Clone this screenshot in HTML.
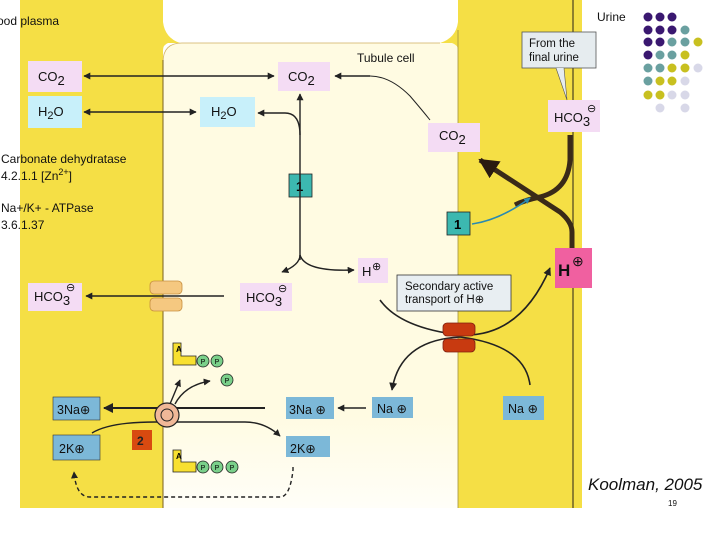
<!DOCTYPE html>
<html><head><meta charset="utf-8"><style>
body{margin:0;background:#fff;}
svg{display:block;font-family:"Liberation Sans",sans-serif;}
</style></head><body>
<svg width="720" height="540" viewBox="0 0 720 540" xmlns="http://www.w3.org/2000/svg">
<defs>
<marker id="a" viewBox="0 0 10 10" refX="9" refY="5" markerWidth="5" markerHeight="5" orient="auto-start-reverse"><path d="M0,0L10,5L0,10z" fill="#222"/></marker>
<marker id="ab" viewBox="0 0 10 10" refX="9" refY="5" markerWidth="4" markerHeight="4" orient="auto-start-reverse"><path d="M0,0L10,5L0,10z" fill="#2a1a10"/></marker>
<marker id="at" viewBox="0 0 10 10" refX="9" refY="5" markerWidth="4" markerHeight="4" orient="auto"><path d="M0,0L10,5L0,10z" fill="#2a8ab0"/></marker>
<linearGradient id="cg" x1="0" y1="0" x2="0" y2="1"><stop offset="0.8" stop-color="#fffbe2"/><stop offset="1" stop-color="#fffef8"/></linearGradient>
</defs>
<!-- bands -->
<rect x="20" y="0" width="143" height="508" fill="#f5df45"/>
<path d="M163,508 V62 Q163,43 182,43 H458 V508z" fill="url(#cg)"/>
<rect x="458" y="0" width="124" height="508" fill="#f5df45"/>
<path d="M163,22 Q165,38 180,43 H168 Q163,45 163,50z" fill="#f5df45"/>
<path d="M458,22 Q456,38 440,43 H452 Q458,45 458,50z" fill="#f5df45"/>
<path d="M163,508 V62 Q163,43 182,43 H440" fill="none" stroke="#d0b060" stroke-width="0.8"/>
<line x1="163" y1="60" x2="163" y2="508" stroke="#7a6020" stroke-width="1"/>
<line x1="458" y1="30" x2="458" y2="508" stroke="#a09040" stroke-width="0.8"/>
<line x1="573" y1="0" x2="573" y2="508" stroke="#4a4020" stroke-width="1.2"/>
<!-- left texts -->
<g font-size="12" fill="#111">
<text x="-3" y="25">ood plasma</text>
<text x="1" y="163">Carbonate dehydratase</text>
<text x="1" y="180">4.2.1.1 [Zn<tspan dy="-5" font-size="9">2+</tspan><tspan dy="5">]</tspan></text>
<text x="1" y="212">Na+/K+ - ATPase</text>
<text x="1" y="229">3.6.1.37</text>
<text x="357" y="62">Tubule cell</text>
<text x="597" y="21">Urine</text>
</g>
<!-- boxes -->
<g font-size="13" fill="#111">
<rect x="28" y="61" width="54" height="31" fill="#f4dcf4"/><text x="38" y="81">CO<tspan dy="4">2</tspan></text>
<rect x="28" y="96" width="54" height="32" fill="#c8f0fa"/><text x="38" y="116">H<tspan dy="3" font-size="11">2</tspan><tspan dy="-3">O</tspan></text>
<rect x="278" y="62" width="52" height="29" fill="#f4dcf4"/><text x="288" y="81">CO<tspan dy="4">2</tspan></text>
<rect x="200" y="97" width="55" height="30" fill="#c8f0fa"/><text x="211" y="116">H<tspan dy="3" font-size="11">2</tspan><tspan dy="-3">O</tspan></text>
<rect x="428" y="123" width="52" height="29" fill="#f4dcf4"/><text x="439" y="140">CO<tspan dy="4">2</tspan></text>
<rect x="548" y="100" width="52" height="32" fill="#f4dcf4"/><text x="554" y="122">HCO<tspan dy="4">3</tspan></text><text x="587" y="112" font-size="11">⊖</text>
<rect x="28" y="283" width="54" height="28" fill="#f4dcf4"/><text x="34" y="301">HCO<tspan dy="4">3</tspan></text><text x="66" y="291" font-size="11">⊖</text>
<rect x="240" y="283" width="52" height="28" fill="#f4dcf4"/><text x="246" y="302">HCO<tspan dy="4">3</tspan></text><text x="278" y="292" font-size="11">⊖</text>
<rect x="358" y="258" width="30" height="25" fill="#f4dcf4"/><text x="362" y="276">H</text><text x="372" y="270" font-size="11">⊕</text>
<rect x="555" y="248" width="37" height="40" fill="#f060a0"/><text x="558" y="276" font-size="17" font-weight="bold">H</text><text x="572" y="266" font-size="14">⊕</text>
</g>
<rect x="522" y="32" width="74" height="36" fill="#e6ecef" stroke="#555" stroke-width="0.8"/>
<text x="529" y="47" font-size="11.5" fill="#111">From the</text>
<text x="529" y="61" font-size="11.5" fill="#111">final urine</text>
<path d="M556,68 L567,100 L564,68" fill="#e6ecef" stroke="#555" stroke-width="0.6"/>
<rect x="397" y="275" width="114" height="36" fill="#e8eef2" stroke="#333" stroke-width="0.8"/>
<text x="405" y="290" font-size="11.5" fill="#111">Secondary active</text>
<text x="405" y="303" font-size="11.5" fill="#111">transport of H⊕</text>
<!-- teal 1 boxes -->
<rect x="289" y="174" width="23" height="23" fill="#3cb8b0" stroke="#222" stroke-width="0.8"/><text x="296" y="191" font-size="13" font-weight="bold">1</text>
<rect x="447" y="212" width="23" height="23" fill="#3cb8b0" stroke="#222" stroke-width="0.8"/><text x="454" y="229" font-size="13" font-weight="bold">1</text>
<!-- arrows -->
<g stroke="#222" stroke-width="1.4" fill="none">
<line x1="84" y1="76" x2="274" y2="76" marker-start="url(#a)" marker-end="url(#a)"/>
<line x1="84" y1="112" x2="196" y2="112" marker-start="url(#a)" marker-end="url(#a)"/>
<path d="M335,76 H370" marker-start="url(#a)"/>
<path d="M370,76 Q390,76 410,96 Q422,110 430,120" stroke-width="1"/>
<line x1="300" y1="260" x2="300" y2="94" marker-end="url(#a)"/>
<path d="M300,135 Q300,113 285,113 H258" marker-end="url(#a)"/>
<path d="M300,255 Q300,265 282,272" marker-end="url(#a)"/>
<path d="M300,255 Q305,272 354,270" marker-end="url(#a)"/>
<line x1="224" y1="296" x2="86" y2="296" marker-end="url(#a)"/>
<path d="M380,300 Q400,328 460,335 Q520,338 550,268" stroke-width="1.6" marker-end="url(#a)"/>
<path d="M530,385 Q525,345 460,337 Q400,340 392,390" stroke-width="1.6" marker-end="url(#a)"/>
<line x1="366" y1="408" x2="338" y2="408" marker-end="url(#a)"/>
<line x1="265" y1="408" x2="104" y2="408" stroke-width="2" marker-end="url(#a)"/>
<path d="M92,433 Q110,422 155,422 H245 Q265,422 280,436" marker-end="url(#a)"/>
<path d="M293,467 V470 Q290,497 280,497 H90 Q76,497 74,472" stroke-dasharray="4,3" marker-end="url(#a)"/>
<path d="M170,404 L180,380" marker-end="url(#a)"/>
<path d="M175,404 Q185,385 210,381" marker-end="url(#a)"/>
</g>
<!-- thick brown arrows -->
<g stroke="#3a2a18" stroke-width="5" fill="none">
<path d="M572,248 V232 Q572,222 560,212 L480,160" marker-end="url(#ab)"/>
<path d="M570,135 V160 Q568,190 540,197 Q525,200 515,205" />
</g>
<path d="M472,224 Q500,220 530,198" stroke="#2a8ab0" stroke-width="1.6" fill="none" marker-end="url(#at)"/>
<!-- transporters -->
<g fill="#f5c880" stroke="#c89040" stroke-width="0.8">
<rect x="150" y="281" width="32" height="13" rx="4"/><rect x="150" y="298" width="32" height="13" rx="4"/>
</g>
<g fill="#c83a10" stroke="#802010" stroke-width="0.8">
<rect x="443" y="323" width="32" height="13" rx="4"/><rect x="443" y="339" width="32" height="13" rx="4"/>
</g>
<!-- Na/K boxes -->
<g font-size="12.5" fill="#111">
<rect x="53" y="397" width="47" height="23" fill="#7cb8d8" stroke="#333" stroke-width="0.6"/><text x="57" y="414">3Na⊕</text>
<rect x="53" y="435" width="47" height="25" fill="#7cb8d8" stroke="#333" stroke-width="0.6"/><text x="59" y="453">2K⊕</text>
<rect x="286" y="397" width="48" height="22" fill="#7cb8d8"/><text x="289" y="414">3Na ⊕</text>
<rect x="286" y="436" width="44" height="21" fill="#7cb8d8"/><text x="290" y="453">2K⊕</text>
<rect x="372" y="397" width="41" height="21" fill="#7cb8d8"/><text x="377" y="413">Na ⊕</text>
<rect x="503" y="396" width="41" height="24" fill="#7cb8d8"/><text x="508" y="413">Na ⊕</text>
</g>
<rect x="132" y="430" width="20" height="20" fill="#d84a10"/><text x="137" y="445" font-size="12" font-weight="bold" fill="#222">2</text>
<!-- pump -->
<circle cx="167" cy="415" r="12" fill="#f0b898" stroke="#222" stroke-width="1.2"/>
<circle cx="167" cy="415" r="6" fill="none" stroke="#222" stroke-width="1"/>
<!-- ATP/ADP -->
<g stroke="#222" stroke-width="0.8">
<path d="M173,343 H181 V356 H196 V365 H173z" fill="#f8e030"/>
<path d="M173,450 H181 V462 H196 V472 H173z" fill="#f8e030"/>
<g fill="#7ad08a"><circle cx="203" cy="361" r="6"/><circle cx="217" cy="361" r="6"/><circle cx="227" cy="380" r="6"/>
<circle cx="203" cy="467" r="6"/><circle cx="217" cy="467" r="6"/><circle cx="232" cy="467" r="6"/></g>
</g>
<text x="176" y="352" font-size="8" font-weight="bold">A</text><text x="176" y="459" font-size="8" font-weight="bold">A</text>
<g font-size="7" text-anchor="middle"><text x="203" y="364">P</text><text x="217" y="364">P</text><text x="227" y="383">P</text><text x="203" y="470">P</text><text x="217" y="470">P</text><text x="232" y="470">P</text></g>
<!-- dots -->
<g>
<g fill="#3a1870"><circle cx="648" cy="17" r="4.5"/><circle cx="660" cy="17" r="4.5"/><circle cx="672" cy="17" r="4.5"/>
<circle cx="648" cy="30" r="4.5"/><circle cx="660" cy="30" r="4.5"/><circle cx="672" cy="30" r="4.5"/>
<circle cx="648" cy="42" r="4.5"/><circle cx="660" cy="42" r="4.5"/><circle cx="648" cy="55" r="4.5"/></g>
<g fill="#6aa0a0"><circle cx="685" cy="30" r="4.5"/><circle cx="672" cy="42" r="4.5"/><circle cx="685" cy="42" r="4.5"/><circle cx="660" cy="55" r="4.5"/><circle cx="672" cy="55" r="4.5"/>
<circle cx="648" cy="68" r="4.5"/><circle cx="660" cy="68" r="4.5"/><circle cx="648" cy="81" r="4.5"/></g>
<g fill="#c8c020"><circle cx="698" cy="42" r="4.5"/><circle cx="685" cy="55" r="4.5"/><circle cx="672" cy="68" r="4.5"/><circle cx="685" cy="68" r="4.5"/><circle cx="660" cy="81" r="4.5"/><circle cx="672" cy="81" r="4.5"/><circle cx="648" cy="95" r="4.5"/><circle cx="660" cy="95" r="4.5"/></g>
<g fill="#d8d8e8"><circle cx="698" cy="68" r="4.5"/><circle cx="685" cy="81" r="4.5"/><circle cx="672" cy="95" r="4.5"/><circle cx="685" cy="95" r="4.5"/><circle cx="660" cy="108" r="4.5"/><circle cx="685" cy="108" r="4.5"/></g>
</g>
<text x="588" y="490" font-size="17" font-style="italic" fill="#111">Koolman, 2005</text>
<text x="668" y="506" font-size="8" fill="#111">19</text>
</svg>
</body></html>
